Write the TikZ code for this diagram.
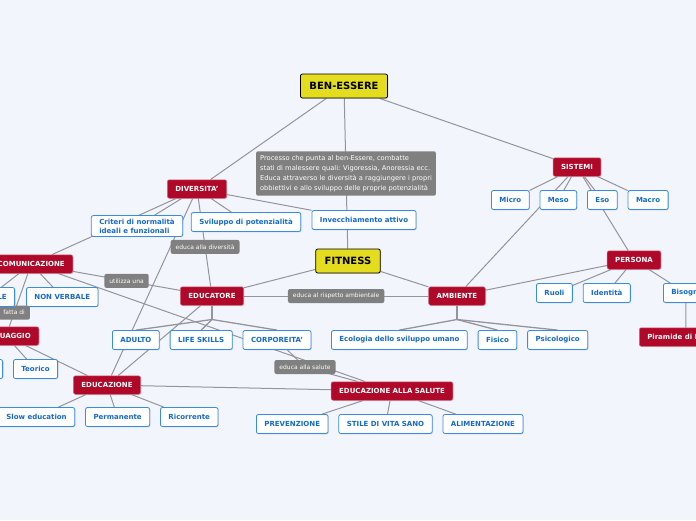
\documentclass[tikz,border=0pt]{standalone}
\usepackage{fontspec}
\setmainfont{DejaVu Sans}
\usetikzlibrary{positioning, shadows, backgrounds}

\definecolor{bgblue}{RGB}{243,245,253}
\definecolor{mapred}{RGB}{176,8,40}
\definecolor{mapyellow}{RGB}{228,220,30}
\definecolor{leafborder}{RGB}{55,140,230}
\definecolor{leaftext}{RGB}{20,105,205}
\definecolor{labelgray}{RGB}{128,128,128}
\definecolor{linegray}{RGB}{148,148,155}

\tikzset{
    central/.style={draw=black, rectangle, rounded corners=2pt, fill=mapyellow, line width=0.8pt, minimum height=24pt, inner xsep=9pt, font=\fontsize{10}{12}\selectfont\bfseries, drop shadow={shadow xshift=0.8pt, shadow yshift=-0.8pt, opacity=0.3}},
    topic/.style={draw=mapred!60!white, rectangle, rounded corners=2pt, fill=mapred, line width=0.5pt, minimum height=18.5pt, inner xsep=8pt, text=white, font=\fontsize{7}{8.5}\selectfont\bfseries, drop shadow={shadow xshift=0.8pt, shadow yshift=-0.8pt, opacity=0.25}},
    leaf/.style={draw=leafborder, rectangle, rounded corners=2pt, fill=white, line width=0.8pt, minimum height=19pt, inner xsep=8pt, text=leaftext, font=\fontsize{7}{8.5}\selectfont\bfseries, drop shadow={shadow xshift=0.8pt, shadow yshift=-0.8pt, opacity=0.25}},
    tag/.style={rectangle, rounded corners=2pt, fill=labelgray, text=white, minimum height=14pt, inner xsep=5pt, font=\fontsize{6}{7}\selectfont},
    note/.style={tag, align=left, inner sep=4pt, font=\fontsize{6.7}{10}\selectfont},
    link/.style={draw=linegray, line width=1pt},
    fork/.style={draw=linegray, line width=1.3pt}
}

\begin{document}
\begin{tikzpicture}[x=1pt, y=-1pt, node distance=10pt]
    \begin{scope}[on background layer]
        \fill [bgblue] (0,0) rectangle (696,520);
    \end{scope}
    \useasboundingbox (0,0) rectangle (696,520);

    % main topics
    \node [central] (ben) at (344,86) {BEN-ESSERE};
    \node [central] (fit) at (348,261) {FITNESS};
    \node [topic] (div) at (197,189) {DIVERSITA'};
    \node [topic] (sis) at (577,167) {SISTEMI};
    \node [topic] (pers) at (634,260) {PERSONA};
    \node [topic, anchor=east] (com) at (73,264) {COMUNICAZIONE};
    \node [topic] (edtore) at (212,296) {EDUCATORE};
    \node [topic] (amb) at (457,296) {AMBIENTE};
    \node [topic, anchor=east] (ling) at (39,336) {LINGUAGGIO};
    \node [topic, anchor=west] (maslow) at (639,337) {Piramide di Maslow};
    \node [topic] (edzione) at (107,385) {EDUCAZIONE};
    \node [topic] (eas) at (392,391) {EDUCAZIONE ALLA SALUTE};

    % leaves
    \node [leaf, anchor=west] (micro) at (491,200) {Micro};
    \node [leaf, right=of micro] (meso) {Meso};
    \node [leaf, right=of meso] (eso) {Eso};
    \node [leaf, right=of eso] (macro) {Macro};

    \node [leaf, align=left] (crit) at (137,226) {Criteri di normalità\\ideali e funzionali};
    \node [leaf] (svil) at (246,222) {Sviluppo di potenzialità};
    \node [leaf] (inv) at (364,220) {Invecchiamento attivo};

    \node [leaf, anchor=west] (ruoli) at (536,293) {Ruoli};
    \node [leaf, right=of ruoli] (ident) {Identità};
    \node [leaf, anchor=west] (bis) at (663,293) {Bisogni};

    \node [leaf, anchor=east] (verb) at (15,297) {VERBALE};
    \node [leaf, anchor=west] (nonverb) at (26,297) {NON VERBALE};

    \node [leaf, anchor=west] (adulto) at (112,340) {ADULTO};
    \node [leaf, right=of adulto] (life) {LIFE SKILLS};
    \node [leaf, right=of life] (corp) {CORPOREITA'};

    \node [leaf, anchor=west] (eco) at (331,340) {Ecologia dello sviluppo umano};
    \node [leaf, right=of eco] (fisico) {Fisico};
    \node [leaf, right=of fisico] (psico) {Psicologico};

    \node [leaf, anchor=east] (prat) at (3,369) {Pratico};
    \node [leaf, anchor=west] (teor) at (13,369) {Teorico};

    \node [leaf, anchor=west] (slow) at (-2,417) {Slow education};
    \node [leaf, right=of slow] (perm) {Permanente};
    \node [leaf, right=of perm] (ric) {Ricorrente};

    \node [leaf, anchor=west] (prev) at (256,424) {PREVENZIONE};
    \node [leaf, right=of prev] (stile) {STILE DI VITA SANO};
    \node [leaf, right=of stile] (alim) {ALIMENTAZIONE};

    \node [tag] (tsal) at (305,367) {educa alla salute};

    % connectors
    \begin{scope}[on background layer]
        \draw [link] (ben) -- (div);
        \draw [link] (ben) -- (sis);
        \draw [link] (sis) -- (micro);
        \draw [link] (sis) -- (meso);
        \draw [link] (sis) -- (eso);
        \draw [link] (sis) -- (macro);
        \draw [link] (sis) -- (amb);
        \draw [link] (sis) -- (pers);
        \draw [link] (div) -- (crit);
        \draw [link] (div) -- (svil);
        \draw [link] (div) -- (inv);
        \draw [link] (div) -- (com);
        \draw [link] (div) -- (edzione);
        \draw [link] (com) -- (verb);
        \draw [link] (com) -- (nonverb);
        \draw [link] (com) -- (eas);
        \draw [link] (ling) -- (prat);
        \draw [link] (ling) -- (teor);
        \draw [link] (ling) -- (edzione);
        \draw [link] (fit) -- (edtore);
        \draw [link] (fit) -- (amb);
        \draw [link] (edtore) -- (edzione);
        \draw [fork] (edtore.south) -- ++(0,14) coordinate (edfork);
        \draw [fork] (edfork) -- (adulto.north);
        \draw [fork] (edfork) -- (life.north);
        \draw [fork] (edfork) -- (corp.north);
        \draw [fork] (amb.south) -- ++(0,14) coordinate (ambfork);
        \draw [fork] (ambfork) -- (eco.north);
        \draw [fork] (ambfork) -- (fisico.north);
        \draw [fork] (ambfork) -- (psico.north);
        \draw [link] (amb) -- (pers);
        \draw [link] (pers) -- (ruoli);
        \draw [link] (pers) -- (ident);
        \draw [link] (pers) -- (bis);
        \draw [link] (bis) -- (maslow);
        \draw [link] (edzione) -- (slow);
        \draw [link] (edzione) -- (perm);
        \draw [link] (edzione) -- (ric);
        \draw [link] (edzione) -- (eas);
        \draw [link] (eas) -- (prev);
        \draw [link] (eas) -- (stile);
        \draw [link] (eas) -- (alim);
        \draw [link] (corp) -- (tsal.center) -- (eas);
        % labelled links
        \draw [link] (edtore) -- node [tag] (tamb) {educa al rispetto ambientale} (amb);
        \draw [link] (com) -- node [tag] (tcom) {utilizza una} (edtore);
        \draw [link] (com) -- node [tag, pos=0.74] (tling) {fatta di} (ling);
        \draw [link] (div) -- node [tag, pos=0.55] (tdiv) {educa alla diversità} (edtore);
        \draw [link] (ben) -- node [note] (tnote) {Processo che punta al ben-Essere, combatte\\stati di malessere quali: Vigoressia, Anoressia ecc.\\Educa attraverso le diversità a raggiungere i propri\\obbiettivi e allo sviluppo delle proprie potenzialità} (fit);
    \end{scope}
\end{tikzpicture}
\end{document}
